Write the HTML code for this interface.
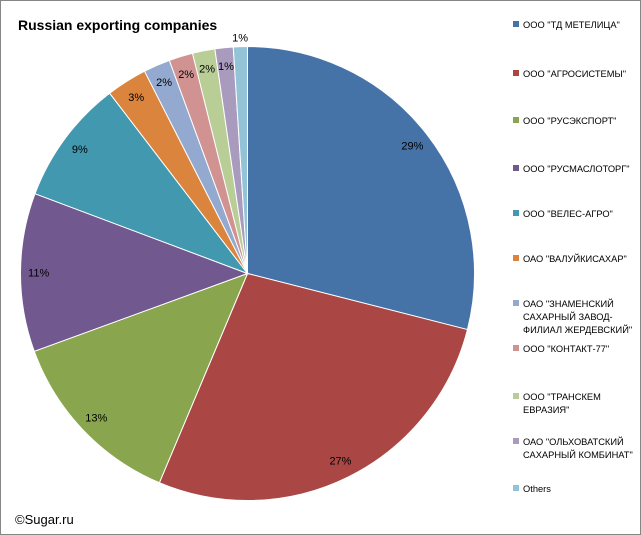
<!DOCTYPE html>
<html><head><meta charset="utf-8"><style>
body{margin:0;background:#fff}
#c{position:relative;width:639px;height:533px;border:1px solid #868686;font-family:"Liberation Sans","DejaVu Sans",sans-serif;overflow:hidden}
.t{position:absolute;left:17px;top:16px;font-size:14px;font-weight:bold;color:#000}
.cr{position:absolute;left:14px;top:511px;font-size:13px;color:#000}
</style></head><body>
<div id="c">
<div class="t">Russian exporting companies</div>
<svg id="s" width="639" height="533" style="position:absolute;left:0;top:0"></svg>
<div class="cr">©Sugar.ru</div>
</div>
<script>
const categories=['ООО "ТД МЕТЕЛИЦА"','ООО "АГРОСИСТЕМЫ"','ООО "РУСЭКСПОРТ"','ООО "РУСМАСЛОТОРГ"','ООО "ВЕЛЕС-АГРО"','ОАО "ВАЛУЙКИСАХАР"','ОАО "ЗНАМЕНСКИЙ|САХАРНЫЙ ЗАВОД-|ФИЛИАЛ ЖЕРДЕВСКИЙ"','ООО "КОНТАКТ-77"','ООО "ТРАНСКЕМ|ЕВРАЗИЯ"','ОАО "ОЛЬХОВАТСКИЙ|САХАРНЫЙ КОМБИНАТ"','Others'];
const values=[29.0,27.4,13.1,11.3,8.9,2.9,1.9,1.7,1.6,1.3,1.0];
const labels=['29%','27%','13%','11%','9%','3%','2%','2%','2%','1%','1%'];
const colors=['#4572A7','#AA4643','#89A54E','#71588F','#4198AF','#DB843D','#93A9CF','#D19392','#B9CD96','#A99BBD','#92C3D6'];
const legendY=[24,73,120,168,213,258,303,348,396,441,488];
const NS='http://www.w3.org/2000/svg';
const s=document.getElementById('s');
const cx=246.5,cy=272.5,R=227;
const total=values.reduce((a,b)=>a+b,0);
function pt(a,r){return [cx+r*Math.sin(a),cy-r*Math.cos(a)];}
let a0=0;
values.forEach((v,i)=>{
  const a1=a0+v/total*2*Math.PI;
  const p0=pt(a0,R),p1=pt(a1,R);
  const p=document.createElementNS(NS,'path');
  p.setAttribute('d',`M${cx},${cy}L${p0[0]},${p0[1]}A${R},${R} 0 ${a1-a0>Math.PI?1:0} 1 ${p1[0]},${p1[1]}Z`);
  p.setAttribute('fill',colors[i]);p.setAttribute('stroke','#fff');p.setAttribute('stroke-width','1');
  
  
  s.appendChild(p);
  const am=(a0+a1)/2;
  const lp=pt(am,i===values.length-1?R*1.04:R*0.92);
  const t=document.createElementNS(NS,'text');
  t.setAttribute('x',lp[0]);t.setAttribute('y',lp[1]+4);
  t.setAttribute('text-anchor','middle');t.setAttribute('font-size','11');t.setAttribute('fill','#000');
  t.textContent=labels[i];
  
  
  s.appendChild(t);
  a0=a1;
});
categories.forEach((c,i)=>{
  const y=legendY[i];
  const r=document.createElementNS(NS,'rect');
  r.setAttribute('x',512);r.setAttribute('y',y-4);r.setAttribute('width',6);r.setAttribute('height',6);r.setAttribute('fill',colors[i]);
  
  
  s.appendChild(r);
  c.split('|').forEach((ln,j)=>{
    const t=document.createElementNS(NS,'text');
    t.setAttribute('x',522);t.setAttribute('y',y+3+j*13);t.setAttribute('font-size','9.3');t.setAttribute('fill','#000');
    t.textContent=ln;
    
    
    s.appendChild(t);
  });
});
</script>
</body></html>
